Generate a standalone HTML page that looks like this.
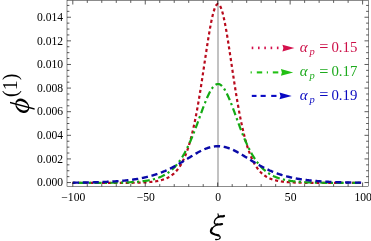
<!DOCTYPE html><html><head><meta charset="utf-8"><style>html,body{margin:0;padding:0;background:#fff;width:371px;height:241px;overflow:hidden}</style></head><body><svg width="371" height="241" viewBox="0 0 371 241" style="position:absolute;left:0;top:0;will-change:transform">
<line x1="218" y1="0.50" x2="218" y2="186.50" stroke="#909090" stroke-width="1.1"/>
<path d="M72.33 182.95 L72.81 182.95 L73.29 182.95 L73.78 182.95 L74.26 182.95 L74.75 182.95 L75.23 182.95 L75.71 182.95 L76.20 182.95 L76.68 182.95 L77.17 182.95 L77.65 182.95 L78.14 182.95 L78.62 182.95 L79.10 182.95 L79.59 182.95 L80.07 182.95 L80.56 182.95 L81.04 182.95 L81.53 182.95 L82.01 182.95 L82.49 182.95 L82.98 182.95 L83.46 182.95 L83.95 182.95 L84.43 182.95 L84.91 182.95 L85.40 182.95 L85.88 182.95 L86.37 182.95 L86.85 182.95 L87.34 182.95 L87.82 182.95 L88.30 182.95 L88.79 182.95 L89.27 182.95 L89.76 182.95 L90.24 182.95 L90.73 182.95 L91.21 182.95 L91.69 182.95 L92.18 182.95 L92.66 182.95 L93.15 182.95 L93.63 182.95 L94.11 182.95 L94.60 182.95 L95.08 182.95 L95.57 182.95 L96.05 182.95 L96.54 182.94 L97.02 182.94 L97.50 182.94 L97.99 182.94 L98.47 182.94 L98.96 182.94 L99.44 182.94 L99.93 182.94 L100.41 182.94 L100.89 182.94 L101.38 182.94 L101.86 182.94 L102.35 182.94 L102.83 182.94 L103.31 182.94 L103.80 182.94 L104.28 182.94 L104.77 182.94 L105.25 182.94 L105.74 182.94 L106.22 182.94 L106.70 182.94 L107.19 182.94 L107.67 182.93 L108.16 182.93 L108.64 182.93 L109.13 182.93 L109.61 182.93 L110.09 182.93 L110.58 182.93 L111.06 182.93 L111.55 182.93 L112.03 182.93 L112.51 182.93 L113.00 182.92 L113.48 182.92 L113.97 182.92 L114.45 182.92 L114.94 182.92 L115.42 182.92 L115.90 182.92 L116.39 182.91 L116.87 182.91 L117.36 182.91 L117.84 182.91 L118.33 182.91 L118.81 182.90 L119.29 182.90 L119.78 182.90 L120.26 182.90 L120.75 182.90 L121.23 182.89 L121.71 182.89 L122.20 182.89 L122.68 182.88 L123.17 182.88 L123.65 182.88 L124.14 182.87 L124.62 182.87 L125.10 182.87 L125.59 182.86 L126.07 182.86 L126.56 182.85 L127.04 182.85 L127.53 182.84 L128.01 182.84 L128.49 182.83 L128.98 182.83 L129.46 182.82 L129.95 182.82 L130.43 182.81 L130.91 182.80 L131.40 182.80 L131.88 182.79 L132.37 182.78 L132.85 182.77 L133.34 182.76 L133.82 182.75 L134.30 182.75 L134.79 182.74 L135.27 182.73 L135.76 182.71 L136.24 182.70 L136.73 182.69 L137.21 182.68 L137.69 182.67 L138.18 182.65 L138.66 182.64 L139.15 182.62 L139.63 182.61 L140.11 182.59 L140.60 182.57 L141.08 182.55 L141.57 182.53 L142.05 182.51 L142.54 182.49 L143.02 182.47 L143.50 182.45 L143.99 182.42 L144.47 182.40 L144.96 182.37 L145.44 182.34 L145.93 182.31 L146.41 182.28 L146.89 182.25 L147.38 182.22 L147.86 182.18 L148.35 182.15 L148.83 182.11 L149.31 182.07 L149.80 182.02 L150.28 181.98 L150.77 181.93 L151.25 181.88 L151.74 181.83 L152.22 181.78 L152.70 181.72 L153.19 181.66 L153.67 181.60 L154.16 181.54 L154.64 181.47 L155.12 181.40 L155.61 181.32 L156.09 181.24 L156.58 181.16 L157.06 181.07 L157.55 180.98 L158.03 180.89 L158.51 180.79 L159.00 180.69 L159.48 180.58 L159.97 180.46 L160.45 180.35 L160.94 180.22 L161.42 180.09 L161.90 179.95 L162.39 179.81 L162.87 179.66 L163.36 179.50 L163.84 179.33 L164.32 179.16 L164.81 178.98 L165.29 178.79 L165.78 178.59 L166.26 178.38 L166.75 178.17 L167.23 177.94 L167.71 177.70 L168.20 177.45 L168.68 177.19 L169.17 176.91 L169.65 176.63 L170.14 176.33 L170.62 176.01 L171.10 175.68 L171.59 175.34 L172.07 174.98 L172.56 174.60 L173.04 174.21 L173.52 173.80 L174.01 173.37 L174.49 172.92 L174.98 172.45 L175.46 171.96 L175.95 171.44 L176.43 170.90 L176.91 170.34 L177.40 169.75 L177.88 169.14 L178.37 168.50 L178.85 167.83 L179.34 167.13 L179.82 166.41 L180.30 165.65 L180.79 164.85 L181.27 164.02 L181.76 163.16 L182.24 162.26 L182.72 161.32 L183.21 160.34 L183.69 159.33 L184.18 158.26 L184.66 157.16 L185.15 156.01 L185.63 154.81 L186.11 153.57 L186.60 152.28 L187.08 150.93 L187.57 149.54 L188.05 148.08 L188.54 146.58 L189.02 145.02 L189.50 143.40 L189.99 141.72 L190.47 139.98 L190.96 138.18 L191.44 136.32 L191.92 134.39 L192.41 132.40 L192.89 130.35 L193.38 128.23 L193.86 126.04 L194.35 123.79 L194.83 121.47 L195.31 119.08 L195.80 116.63 L196.28 114.11 L196.77 111.53 L197.25 108.88 L197.74 106.17 L198.22 103.40 L198.70 100.57 L199.19 97.69 L199.67 94.75 L200.16 91.75 L200.64 88.72 L201.12 85.63 L201.61 82.51 L202.09 79.35 L202.58 76.16 L203.06 72.94 L203.55 69.71 L204.03 66.46 L204.51 63.21 L205.00 59.96 L205.48 56.72 L205.97 53.49 L206.45 50.29 L206.94 47.12 L207.42 43.99 L207.90 40.92 L208.39 37.90 L208.87 34.96 L209.36 32.09 L209.84 29.31 L210.32 26.64 L210.81 24.07 L211.29 21.61 L211.78 19.29 L212.26 17.10 L212.75 15.05 L213.23 13.16 L213.71 11.43 L214.20 9.86 L214.68 8.47 L215.17 7.26 L215.65 6.23 L216.14 5.39 L216.62 4.75 L217.10 4.30 L217.59 4.06 L218.07 4.01 L218.56 4.16 L219.04 4.51 L219.52 5.05 L220.01 5.79 L220.49 6.72 L220.98 7.84 L221.46 9.15 L221.95 10.63 L222.43 12.28 L222.91 14.09 L223.40 16.06 L223.88 18.18 L224.37 20.44 L224.85 22.83 L225.34 25.35 L225.82 27.97 L226.30 30.70 L226.79 33.52 L227.27 36.43 L227.76 39.41 L228.24 42.46 L228.72 45.56 L229.21 48.71 L229.69 51.90 L230.18 55.11 L230.66 58.35 L231.15 61.60 L231.63 64.85 L232.11 68.10 L232.60 71.34 L233.08 74.57 L233.57 77.77 L234.05 80.94 L234.54 84.09 L235.02 87.19 L235.50 90.25 L235.99 93.27 L236.47 96.23 L236.96 99.15 L237.44 102.01 L237.92 104.81 L238.41 107.55 L238.89 110.22 L239.38 112.84 L239.86 115.39 L240.35 117.87 L240.83 120.29 L241.31 122.64 L241.80 124.93 L242.28 127.15 L242.77 129.30 L243.25 131.39 L243.73 133.41 L244.22 135.37 L244.70 137.26 L245.19 139.10 L245.67 140.86 L246.16 142.57 L246.64 144.22 L247.12 145.81 L247.61 147.34 L248.09 148.82 L248.58 150.25 L249.06 151.62 L249.55 152.93 L250.03 154.20 L250.51 155.42 L251.00 156.60 L251.48 157.72 L251.97 158.80 L252.45 159.84 L252.93 160.84 L253.42 161.80 L253.90 162.72 L254.39 163.60 L254.87 164.45 L255.36 165.26 L255.84 166.03 L256.32 166.78 L256.81 167.49 L257.29 168.17 L257.78 168.83 L258.26 169.45 L258.75 170.05 L259.23 170.63 L259.71 171.18 L260.20 171.70 L260.68 172.21 L261.17 172.69 L261.65 173.15 L262.13 173.59 L262.62 174.01 L263.10 174.41 L263.59 174.80 L264.07 175.16 L264.56 175.52 L265.04 175.85 L265.52 176.17 L266.01 176.48 L266.49 176.77 L266.98 177.05 L267.46 177.32 L267.95 177.58 L268.43 177.82 L268.91 178.05 L269.40 178.28 L269.88 178.49 L270.37 178.69 L270.85 178.89 L271.33 179.07 L271.82 179.25 L272.30 179.42 L272.79 179.58 L273.27 179.73 L273.76 179.88 L274.24 180.02 L274.72 180.16 L275.21 180.28 L275.69 180.41 L276.18 180.52 L276.66 180.63 L277.15 180.74 L277.63 180.84 L278.11 180.94 L278.60 181.03 L279.08 181.12 L279.57 181.20 L280.05 181.28 L280.53 181.36 L281.02 181.43 L281.50 181.50 L281.99 181.57 L282.47 181.63 L282.96 181.69 L283.44 181.75 L283.92 181.81 L284.41 181.86 L284.89 181.91 L285.38 181.96 L285.86 182.00 L286.35 182.05 L286.83 182.09 L287.31 182.13 L287.80 182.17 L288.28 182.20 L288.77 182.24 L289.25 182.27 L289.73 182.30 L290.22 182.33 L290.70 182.36 L291.19 182.39 L291.67 182.41 L292.16 182.44 L292.64 182.46 L293.12 182.48 L293.61 182.50 L294.09 182.52 L294.58 182.54 L295.06 182.56 L295.55 182.58 L296.03 182.60 L296.51 182.61 L297.00 182.63 L297.48 182.64 L297.97 182.66 L298.45 182.67 L298.93 182.68 L299.42 182.70 L299.90 182.71 L300.39 182.72 L300.87 182.73 L301.36 182.74 L301.84 182.75 L302.32 182.76 L302.81 182.77 L303.29 182.78 L303.78 182.78 L304.26 182.79 L304.75 182.80 L305.23 182.81 L305.71 182.81 L306.20 182.82 L306.68 182.83 L307.17 182.83 L307.65 182.84 L308.13 182.84 L308.62 182.85 L309.10 182.85 L309.59 182.86 L310.07 182.86 L310.56 182.86 L311.04 182.87 L311.52 182.87 L312.01 182.88 L312.49 182.88 L312.98 182.88 L313.46 182.89 L313.95 182.89 L314.43 182.89 L314.91 182.89 L315.40 182.90 L315.88 182.90 L316.37 182.90 L316.85 182.90 L317.33 182.91 L317.82 182.91 L318.30 182.91 L318.79 182.91 L319.27 182.91 L319.76 182.92 L320.24 182.92 L320.72 182.92 L321.21 182.92 L321.69 182.92 L322.18 182.92 L322.66 182.92 L323.14 182.92 L323.63 182.93 L324.11 182.93 L324.60 182.93 L325.08 182.93 L325.57 182.93 L326.05 182.93 L326.53 182.93 L327.02 182.93 L327.50 182.93 L327.99 182.93 L328.47 182.94 L328.96 182.94 L329.44 182.94 L329.92 182.94 L330.41 182.94 L330.89 182.94 L331.38 182.94 L331.86 182.94 L332.34 182.94 L332.83 182.94 L333.31 182.94 L333.80 182.94 L334.28 182.94 L334.77 182.94 L335.25 182.94 L335.73 182.94 L336.22 182.94 L336.70 182.94 L337.19 182.94 L337.67 182.94 L338.16 182.94 L338.64 182.94 L339.12 182.94 L339.61 182.94 L340.09 182.95 L340.58 182.95 L341.06 182.95 L341.54 182.95 L342.03 182.95 L342.51 182.95 L343.00 182.95 L343.48 182.95 L343.97 182.95 L344.45 182.95 L344.93 182.95 L345.42 182.95 L345.90 182.95 L346.39 182.95 L346.87 182.95 L347.36 182.95 L347.84 182.95 L348.32 182.95 L348.81 182.95 L349.29 182.95 L349.78 182.95 L350.26 182.95 L350.74 182.95 L351.23 182.95 L351.71 182.95 L352.20 182.95 L352.68 182.95 L353.17 182.95 L353.65 182.95 L354.13 182.95 L354.62 182.95 L355.10 182.95 L355.59 182.95 L356.07 182.95 L356.56 182.95 L357.04 182.95 L357.52 182.95 L358.01 182.95 L358.49 182.95 L358.98 182.95 L359.46 182.95 L359.94 182.95 L360.43 182.95 L360.91 182.95 L361.40 182.95 L361.88 182.95 L362.37 182.95 L362.85 182.95" fill="none" stroke="#b80a1c" stroke-width="2.2" stroke-dasharray="3.1 2.815" stroke-dashoffset="5.80"/>
<path d="M72.33 182.94 L72.81 182.94 L73.29 182.94 L73.78 182.94 L74.26 182.94 L74.75 182.94 L75.23 182.94 L75.71 182.94 L76.20 182.94 L76.68 182.94 L77.17 182.93 L77.65 182.93 L78.14 182.93 L78.62 182.93 L79.10 182.93 L79.59 182.93 L80.07 182.93 L80.56 182.93 L81.04 182.93 L81.53 182.93 L82.01 182.93 L82.49 182.93 L82.98 182.93 L83.46 182.93 L83.95 182.93 L84.43 182.92 L84.91 182.92 L85.40 182.92 L85.88 182.92 L86.37 182.92 L86.85 182.92 L87.34 182.92 L87.82 182.92 L88.30 182.92 L88.79 182.92 L89.27 182.91 L89.76 182.91 L90.24 182.91 L90.73 182.91 L91.21 182.91 L91.69 182.91 L92.18 182.91 L92.66 182.90 L93.15 182.90 L93.63 182.90 L94.11 182.90 L94.60 182.90 L95.08 182.89 L95.57 182.89 L96.05 182.89 L96.54 182.89 L97.02 182.89 L97.50 182.88 L97.99 182.88 L98.47 182.88 L98.96 182.88 L99.44 182.87 L99.93 182.87 L100.41 182.87 L100.89 182.87 L101.38 182.86 L101.86 182.86 L102.35 182.86 L102.83 182.85 L103.31 182.85 L103.80 182.85 L104.28 182.84 L104.77 182.84 L105.25 182.84 L105.74 182.83 L106.22 182.83 L106.70 182.82 L107.19 182.82 L107.67 182.81 L108.16 182.81 L108.64 182.80 L109.13 182.80 L109.61 182.79 L110.09 182.79 L110.58 182.78 L111.06 182.78 L111.55 182.77 L112.03 182.76 L112.51 182.76 L113.00 182.75 L113.48 182.74 L113.97 182.73 L114.45 182.73 L114.94 182.72 L115.42 182.71 L115.90 182.70 L116.39 182.69 L116.87 182.68 L117.36 182.67 L117.84 182.66 L118.33 182.65 L118.81 182.64 L119.29 182.63 L119.78 182.62 L120.26 182.61 L120.75 182.60 L121.23 182.59 L121.71 182.57 L122.20 182.56 L122.68 182.55 L123.17 182.53 L123.65 182.52 L124.14 182.50 L124.62 182.49 L125.10 182.47 L125.59 182.45 L126.07 182.43 L126.56 182.42 L127.04 182.40 L127.53 182.38 L128.01 182.36 L128.49 182.34 L128.98 182.31 L129.46 182.29 L129.95 182.27 L130.43 182.24 L130.91 182.22 L131.40 182.19 L131.88 182.17 L132.37 182.14 L132.85 182.11 L133.34 182.08 L133.82 182.05 L134.30 182.02 L134.79 181.98 L135.27 181.95 L135.76 181.91 L136.24 181.88 L136.73 181.84 L137.21 181.80 L137.69 181.76 L138.18 181.72 L138.66 181.67 L139.15 181.63 L139.63 181.58 L140.11 181.53 L140.60 181.48 L141.08 181.43 L141.57 181.38 L142.05 181.32 L142.54 181.26 L143.02 181.20 L143.50 181.14 L143.99 181.08 L144.47 181.01 L144.96 180.94 L145.44 180.87 L145.93 180.80 L146.41 180.73 L146.89 180.65 L147.38 180.57 L147.86 180.48 L148.35 180.40 L148.83 180.31 L149.31 180.21 L149.80 180.12 L150.28 180.02 L150.77 179.91 L151.25 179.81 L151.74 179.70 L152.22 179.58 L152.70 179.47 L153.19 179.34 L153.67 179.22 L154.16 179.09 L154.64 178.95 L155.12 178.81 L155.61 178.67 L156.09 178.52 L156.58 178.37 L157.06 178.21 L157.55 178.04 L158.03 177.87 L158.51 177.70 L159.00 177.52 L159.48 177.33 L159.97 177.13 L160.45 176.93 L160.94 176.73 L161.42 176.51 L161.90 176.29 L162.39 176.06 L162.87 175.82 L163.36 175.58 L163.84 175.33 L164.32 175.07 L164.81 174.80 L165.29 174.52 L165.78 174.23 L166.26 173.94 L166.75 173.63 L167.23 173.32 L167.71 172.99 L168.20 172.66 L168.68 172.31 L169.17 171.95 L169.65 171.59 L170.14 171.21 L170.62 170.81 L171.10 170.41 L171.59 169.99 L172.07 169.56 L172.56 169.12 L173.04 168.67 L173.52 168.20 L174.01 167.71 L174.49 167.22 L174.98 166.70 L175.46 166.18 L175.95 165.63 L176.43 165.08 L176.91 164.50 L177.40 163.91 L177.88 163.30 L178.37 162.68 L178.85 162.04 L179.34 161.38 L179.82 160.70 L180.30 160.01 L180.79 159.30 L181.27 158.57 L181.76 157.82 L182.24 157.05 L182.72 156.26 L183.21 155.45 L183.69 154.62 L184.18 153.78 L184.66 152.91 L185.15 152.02 L185.63 151.11 L186.11 150.19 L186.60 149.24 L187.08 148.27 L187.57 147.28 L188.05 146.27 L188.54 145.25 L189.02 144.20 L189.50 143.13 L189.99 142.04 L190.47 140.94 L190.96 139.81 L191.44 138.67 L191.92 137.51 L192.41 136.33 L192.89 135.14 L193.38 133.93 L193.86 132.70 L194.35 131.46 L194.83 130.21 L195.31 128.94 L195.80 127.66 L196.28 126.37 L196.77 125.07 L197.25 123.76 L197.74 122.44 L198.22 121.12 L198.70 119.79 L199.19 118.46 L199.67 117.13 L200.16 115.80 L200.64 114.47 L201.12 113.14 L201.61 111.82 L202.09 110.50 L202.58 109.19 L203.06 107.90 L203.55 106.61 L204.03 105.34 L204.51 104.09 L205.00 102.86 L205.48 101.65 L205.97 100.46 L206.45 99.29 L206.94 98.16 L207.42 97.05 L207.90 95.97 L208.39 94.93 L208.87 93.93 L209.36 92.96 L209.84 92.03 L210.32 91.15 L210.81 90.31 L211.29 89.51 L211.78 88.76 L212.26 88.07 L212.75 87.42 L213.23 86.82 L213.71 86.28 L214.20 85.80 L214.68 85.37 L215.17 84.99 L215.65 84.68 L216.14 84.42 L216.62 84.23 L217.10 84.09 L217.59 84.02 L218.07 84.00 L218.56 84.05 L219.04 84.15 L219.52 84.32 L220.01 84.55 L220.49 84.83 L220.98 85.17 L221.46 85.58 L221.95 86.03 L222.43 86.55 L222.91 87.12 L223.40 87.74 L223.88 88.41 L224.37 89.13 L224.85 89.91 L225.34 90.72 L225.82 91.59 L226.30 92.49 L226.79 93.44 L227.27 94.43 L227.76 95.45 L228.24 96.51 L228.72 97.60 L229.21 98.72 L229.69 99.88 L230.18 101.05 L230.66 102.25 L231.15 103.48 L231.63 104.72 L232.11 105.98 L232.60 107.26 L233.08 108.55 L233.57 109.85 L234.05 111.16 L234.54 112.48 L235.02 113.81 L235.50 115.14 L235.99 116.47 L236.47 117.80 L236.96 119.13 L237.44 120.46 L237.92 121.79 L238.41 123.11 L238.89 124.42 L239.38 125.73 L239.86 127.02 L240.35 128.31 L240.83 129.58 L241.31 130.84 L241.80 132.09 L242.28 133.32 L242.77 134.54 L243.25 135.74 L243.73 136.93 L244.22 138.10 L244.70 139.25 L245.19 140.38 L245.67 141.50 L246.16 142.59 L246.64 143.67 L247.12 144.73 L247.61 145.77 L248.09 146.78 L248.58 147.78 L249.06 148.76 L249.55 149.72 L250.03 150.66 L250.51 151.57 L251.00 152.47 L251.48 153.35 L251.97 154.21 L252.45 155.04 L252.93 155.86 L253.42 156.66 L253.90 157.44 L254.39 158.20 L254.87 158.94 L255.36 159.66 L255.84 160.36 L256.32 161.05 L256.81 161.71 L257.29 162.36 L257.78 163.00 L258.26 163.61 L258.75 164.21 L259.23 164.79 L259.71 165.36 L260.20 165.91 L260.68 166.44 L261.17 166.96 L261.65 167.47 L262.13 167.96 L262.62 168.44 L263.10 168.90 L263.59 169.35 L264.07 169.78 L264.56 170.20 L265.04 170.61 L265.52 171.01 L266.01 171.40 L266.49 171.77 L266.98 172.13 L267.46 172.49 L267.95 172.83 L268.43 173.16 L268.91 173.48 L269.40 173.79 L269.88 174.09 L270.37 174.38 L270.85 174.66 L271.33 174.94 L271.82 175.20 L272.30 175.46 L272.79 175.70 L273.27 175.94 L273.76 176.18 L274.24 176.40 L274.72 176.62 L275.21 176.83 L275.69 177.03 L276.18 177.23 L276.66 177.42 L277.15 177.61 L277.63 177.79 L278.11 177.96 L278.60 178.13 L279.08 178.29 L279.57 178.45 L280.05 178.60 L280.53 178.74 L281.02 178.89 L281.50 179.02 L281.99 179.15 L282.47 179.28 L282.96 179.41 L283.44 179.53 L283.92 179.64 L284.41 179.75 L284.89 179.86 L285.38 179.97 L285.86 180.07 L286.35 180.17 L286.83 180.26 L287.31 180.35 L287.80 180.44 L288.28 180.52 L288.77 180.61 L289.25 180.69 L289.73 180.76 L290.22 180.84 L290.70 180.91 L291.19 180.98 L291.67 181.05 L292.16 181.11 L292.64 181.17 L293.12 181.23 L293.61 181.29 L294.09 181.35 L294.58 181.40 L295.06 181.46 L295.55 181.51 L296.03 181.56 L296.51 181.60 L297.00 181.65 L297.48 181.69 L297.97 181.74 L298.45 181.78 L298.93 181.82 L299.42 181.86 L299.90 181.90 L300.39 181.93 L300.87 181.97 L301.36 182.00 L301.84 182.03 L302.32 182.06 L302.81 182.09 L303.29 182.12 L303.78 182.15 L304.26 182.18 L304.75 182.21 L305.23 182.23 L305.71 182.26 L306.20 182.28 L306.68 182.30 L307.17 182.32 L307.65 182.35 L308.13 182.37 L308.62 182.39 L309.10 182.41 L309.59 182.42 L310.07 182.44 L310.56 182.46 L311.04 182.48 L311.52 182.49 L312.01 182.51 L312.49 182.52 L312.98 182.54 L313.46 182.55 L313.95 182.57 L314.43 182.58 L314.91 182.59 L315.40 182.60 L315.88 182.62 L316.37 182.63 L316.85 182.64 L317.33 182.65 L317.82 182.66 L318.30 182.67 L318.79 182.68 L319.27 182.69 L319.76 182.70 L320.24 182.71 L320.72 182.71 L321.21 182.72 L321.69 182.73 L322.18 182.74 L322.66 182.75 L323.14 182.75 L323.63 182.76 L324.11 182.77 L324.60 182.77 L325.08 182.78 L325.57 182.78 L326.05 182.79 L326.53 182.80 L327.02 182.80 L327.50 182.81 L327.99 182.81 L328.47 182.82 L328.96 182.82 L329.44 182.82 L329.92 182.83 L330.41 182.83 L330.89 182.84 L331.38 182.84 L331.86 182.84 L332.34 182.85 L332.83 182.85 L333.31 182.86 L333.80 182.86 L334.28 182.86 L334.77 182.86 L335.25 182.87 L335.73 182.87 L336.22 182.87 L336.70 182.88 L337.19 182.88 L337.67 182.88 L338.16 182.88 L338.64 182.89 L339.12 182.89 L339.61 182.89 L340.09 182.89 L340.58 182.89 L341.06 182.90 L341.54 182.90 L342.03 182.90 L342.51 182.90 L343.00 182.90 L343.48 182.90 L343.97 182.91 L344.45 182.91 L344.93 182.91 L345.42 182.91 L345.90 182.91 L346.39 182.91 L346.87 182.91 L347.36 182.92 L347.84 182.92 L348.32 182.92 L348.81 182.92 L349.29 182.92 L349.78 182.92 L350.26 182.92 L350.74 182.92 L351.23 182.92 L351.71 182.92 L352.20 182.93 L352.68 182.93 L353.17 182.93 L353.65 182.93 L354.13 182.93 L354.62 182.93 L355.10 182.93 L355.59 182.93 L356.07 182.93 L356.56 182.93 L357.04 182.93 L357.52 182.93 L358.01 182.93 L358.49 182.93 L358.98 182.94 L359.46 182.94 L359.94 182.94 L360.43 182.94 L360.91 182.94 L361.40 182.94 L361.88 182.94 L362.37 182.94 L362.85 182.94" fill="none" stroke="#14aa14" stroke-width="2.2" stroke-dasharray="2.2 3.3 7.3 3.27" stroke-dashoffset="15.60"/>
<path d="M72.33 182.70 L72.81 182.70 L73.29 182.69 L73.78 182.69 L74.26 182.68 L74.75 182.67 L75.23 182.67 L75.71 182.66 L76.20 182.66 L76.68 182.65 L77.17 182.64 L77.65 182.64 L78.14 182.63 L78.62 182.62 L79.10 182.62 L79.59 182.61 L80.07 182.60 L80.56 182.59 L81.04 182.59 L81.53 182.58 L82.01 182.57 L82.49 182.56 L82.98 182.56 L83.46 182.55 L83.95 182.54 L84.43 182.53 L84.91 182.52 L85.40 182.51 L85.88 182.50 L86.37 182.49 L86.85 182.48 L87.34 182.47 L87.82 182.46 L88.30 182.45 L88.79 182.44 L89.27 182.43 L89.76 182.42 L90.24 182.41 L90.73 182.40 L91.21 182.38 L91.69 182.37 L92.18 182.36 L92.66 182.35 L93.15 182.34 L93.63 182.32 L94.11 182.31 L94.60 182.30 L95.08 182.28 L95.57 182.27 L96.05 182.25 L96.54 182.24 L97.02 182.22 L97.50 182.21 L97.99 182.19 L98.47 182.18 L98.96 182.16 L99.44 182.14 L99.93 182.13 L100.41 182.11 L100.89 182.09 L101.38 182.07 L101.86 182.05 L102.35 182.03 L102.83 182.01 L103.31 181.99 L103.80 181.97 L104.28 181.95 L104.77 181.93 L105.25 181.91 L105.74 181.89 L106.22 181.87 L106.70 181.84 L107.19 181.82 L107.67 181.80 L108.16 181.77 L108.64 181.75 L109.13 181.72 L109.61 181.70 L110.09 181.67 L110.58 181.64 L111.06 181.62 L111.55 181.59 L112.03 181.56 L112.51 181.53 L113.00 181.50 L113.48 181.47 L113.97 181.44 L114.45 181.41 L114.94 181.37 L115.42 181.34 L115.90 181.31 L116.39 181.27 L116.87 181.24 L117.36 181.20 L117.84 181.17 L118.33 181.13 L118.81 181.09 L119.29 181.05 L119.78 181.01 L120.26 180.97 L120.75 180.93 L121.23 180.89 L121.71 180.84 L122.20 180.80 L122.68 180.76 L123.17 180.71 L123.65 180.66 L124.14 180.62 L124.62 180.57 L125.10 180.52 L125.59 180.47 L126.07 180.42 L126.56 180.37 L127.04 180.31 L127.53 180.26 L128.01 180.20 L128.49 180.15 L128.98 180.09 L129.46 180.03 L129.95 179.97 L130.43 179.91 L130.91 179.84 L131.40 179.78 L131.88 179.72 L132.37 179.65 L132.85 179.58 L133.34 179.51 L133.82 179.44 L134.30 179.37 L134.79 179.30 L135.27 179.23 L135.76 179.15 L136.24 179.07 L136.73 178.99 L137.21 178.91 L137.69 178.83 L138.18 178.75 L138.66 178.66 L139.15 178.58 L139.63 178.49 L140.11 178.40 L140.60 178.31 L141.08 178.22 L141.57 178.12 L142.05 178.03 L142.54 177.93 L143.02 177.83 L143.50 177.73 L143.99 177.62 L144.47 177.52 L144.96 177.41 L145.44 177.30 L145.93 177.19 L146.41 177.08 L146.89 176.96 L147.38 176.84 L147.86 176.72 L148.35 176.60 L148.83 176.48 L149.31 176.35 L149.80 176.23 L150.28 176.10 L150.77 175.96 L151.25 175.83 L151.74 175.69 L152.22 175.55 L152.70 175.41 L153.19 175.27 L153.67 175.12 L154.16 174.97 L154.64 174.82 L155.12 174.67 L155.61 174.51 L156.09 174.35 L156.58 174.19 L157.06 174.03 L157.55 173.86 L158.03 173.70 L158.51 173.52 L159.00 173.35 L159.48 173.17 L159.97 173.00 L160.45 172.81 L160.94 172.63 L161.42 172.44 L161.90 172.25 L162.39 172.06 L162.87 171.87 L163.36 171.67 L163.84 171.47 L164.32 171.26 L164.81 171.06 L165.29 170.85 L165.78 170.64 L166.26 170.42 L166.75 170.20 L167.23 169.98 L167.71 169.76 L168.20 169.54 L168.68 169.31 L169.17 169.08 L169.65 168.84 L170.14 168.61 L170.62 168.37 L171.10 168.13 L171.59 167.88 L172.07 167.64 L172.56 167.39 L173.04 167.13 L173.52 166.88 L174.01 166.62 L174.49 166.36 L174.98 166.10 L175.46 165.84 L175.95 165.57 L176.43 165.30 L176.91 165.03 L177.40 164.76 L177.88 164.48 L178.37 164.21 L178.85 163.93 L179.34 163.64 L179.82 163.36 L180.30 163.08 L180.79 162.79 L181.27 162.50 L181.76 162.21 L182.24 161.92 L182.72 161.63 L183.21 161.34 L183.69 161.04 L184.18 160.74 L184.66 160.45 L185.15 160.15 L185.63 159.85 L186.11 159.55 L186.60 159.25 L187.08 158.95 L187.57 158.65 L188.05 158.35 L188.54 158.05 L189.02 157.75 L189.50 157.45 L189.99 157.15 L190.47 156.86 L190.96 156.56 L191.44 156.26 L191.92 155.97 L192.41 155.67 L192.89 155.38 L193.38 155.09 L193.86 154.80 L194.35 154.51 L194.83 154.22 L195.31 153.94 L195.80 153.66 L196.28 153.38 L196.77 153.10 L197.25 152.83 L197.74 152.56 L198.22 152.29 L198.70 152.03 L199.19 151.77 L199.67 151.52 L200.16 151.26 L200.64 151.02 L201.12 150.77 L201.61 150.54 L202.09 150.30 L202.58 150.07 L203.06 149.85 L203.55 149.63 L204.03 149.42 L204.51 149.21 L205.00 149.01 L205.48 148.81 L205.97 148.62 L206.45 148.44 L206.94 148.26 L207.42 148.09 L207.90 147.92 L208.39 147.77 L208.87 147.62 L209.36 147.47 L209.84 147.34 L210.32 147.21 L210.81 147.09 L211.29 146.97 L211.78 146.86 L212.26 146.76 L212.75 146.67 L213.23 146.59 L213.71 146.51 L214.20 146.45 L214.68 146.39 L215.17 146.34 L215.65 146.29 L216.14 146.26 L216.62 146.23 L217.10 146.21 L217.59 146.20 L218.07 146.20 L218.56 146.21 L219.04 146.22 L219.52 146.24 L220.01 146.27 L220.49 146.31 L220.98 146.36 L221.46 146.42 L221.95 146.48 L222.43 146.55 L222.91 146.63 L223.40 146.72 L223.88 146.81 L224.37 146.92 L224.85 147.03 L225.34 147.15 L225.82 147.27 L226.30 147.40 L226.79 147.54 L227.27 147.69 L227.76 147.85 L228.24 148.01 L228.72 148.17 L229.21 148.35 L229.69 148.53 L230.18 148.72 L230.66 148.91 L231.15 149.11 L231.63 149.31 L232.11 149.52 L232.60 149.74 L233.08 149.96 L233.57 150.19 L234.05 150.42 L234.54 150.65 L235.02 150.90 L235.50 151.14 L235.99 151.39 L236.47 151.64 L236.96 151.90 L237.44 152.16 L237.92 152.43 L238.41 152.70 L238.89 152.97 L239.38 153.24 L239.86 153.52 L240.35 153.80 L240.83 154.08 L241.31 154.37 L241.80 154.65 L242.28 154.94 L242.77 155.23 L243.25 155.53 L243.73 155.82 L244.22 156.11 L244.70 156.41 L245.19 156.71 L245.67 157.01 L246.16 157.31 L246.64 157.60 L247.12 157.90 L247.61 158.20 L248.09 158.50 L248.58 158.80 L249.06 159.10 L249.55 159.40 L250.03 159.70 L250.51 160.00 L251.00 160.30 L251.48 160.60 L251.97 160.89 L252.45 161.19 L252.93 161.48 L253.42 161.78 L253.90 162.07 L254.39 162.36 L254.87 162.65 L255.36 162.93 L255.84 163.22 L256.32 163.50 L256.81 163.79 L257.29 164.07 L257.78 164.35 L258.26 164.62 L258.75 164.90 L259.23 165.17 L259.71 165.44 L260.20 165.71 L260.68 165.97 L261.17 166.23 L261.65 166.49 L262.13 166.75 L262.62 167.01 L263.10 167.26 L263.59 167.51 L264.07 167.76 L264.56 168.01 L265.04 168.25 L265.52 168.49 L266.01 168.73 L266.49 168.96 L266.98 169.19 L267.46 169.42 L267.95 169.65 L268.43 169.87 L268.91 170.10 L269.40 170.31 L269.88 170.53 L270.37 170.74 L270.85 170.95 L271.33 171.16 L271.82 171.37 L272.30 171.57 L272.79 171.77 L273.27 171.96 L273.76 172.16 L274.24 172.35 L274.72 172.54 L275.21 172.72 L275.69 172.91 L276.18 173.09 L276.66 173.26 L277.15 173.44 L277.63 173.61 L278.11 173.78 L278.60 173.95 L279.08 174.11 L279.57 174.28 L280.05 174.43 L280.53 174.59 L281.02 174.75 L281.50 174.90 L281.99 175.05 L282.47 175.20 L282.96 175.34 L283.44 175.48 L283.92 175.62 L284.41 175.76 L284.89 175.90 L285.38 176.03 L285.86 176.16 L286.35 176.29 L286.83 176.42 L287.31 176.54 L287.80 176.66 L288.28 176.78 L288.77 176.90 L289.25 177.02 L289.73 177.13 L290.22 177.25 L290.70 177.36 L291.19 177.46 L291.67 177.57 L292.16 177.68 L292.64 177.78 L293.12 177.88 L293.61 177.98 L294.09 178.07 L294.58 178.17 L295.06 178.26 L295.55 178.36 L296.03 178.45 L296.51 178.54 L297.00 178.62 L297.48 178.71 L297.97 178.79 L298.45 178.87 L298.93 178.95 L299.42 179.03 L299.90 179.11 L300.39 179.19 L300.87 179.26 L301.36 179.34 L301.84 179.41 L302.32 179.48 L302.81 179.55 L303.29 179.62 L303.78 179.68 L304.26 179.75 L304.75 179.81 L305.23 179.88 L305.71 179.94 L306.20 180.00 L306.68 180.06 L307.17 180.12 L307.65 180.17 L308.13 180.23 L308.62 180.28 L309.10 180.34 L309.59 180.39 L310.07 180.44 L310.56 180.49 L311.04 180.54 L311.52 180.59 L312.01 180.64 L312.49 180.69 L312.98 180.73 L313.46 180.78 L313.95 180.82 L314.43 180.87 L314.91 180.91 L315.40 180.95 L315.88 180.99 L316.37 181.03 L316.85 181.07 L317.33 181.11 L317.82 181.15 L318.30 181.18 L318.79 181.22 L319.27 181.26 L319.76 181.29 L320.24 181.32 L320.72 181.36 L321.21 181.39 L321.69 181.42 L322.18 181.45 L322.66 181.48 L323.14 181.51 L323.63 181.54 L324.11 181.57 L324.60 181.60 L325.08 181.63 L325.57 181.66 L326.05 181.68 L326.53 181.71 L327.02 181.74 L327.50 181.76 L327.99 181.78 L328.47 181.81 L328.96 181.83 L329.44 181.86 L329.92 181.88 L330.41 181.90 L330.89 181.92 L331.38 181.94 L331.86 181.96 L332.34 181.98 L332.83 182.00 L333.31 182.02 L333.80 182.04 L334.28 182.06 L334.77 182.08 L335.25 182.10 L335.73 182.12 L336.22 182.13 L336.70 182.15 L337.19 182.17 L337.67 182.18 L338.16 182.20 L338.64 182.22 L339.12 182.23 L339.61 182.25 L340.09 182.26 L340.58 182.27 L341.06 182.29 L341.54 182.30 L342.03 182.32 L342.51 182.33 L343.00 182.34 L343.48 182.35 L343.97 182.37 L344.45 182.38 L344.93 182.39 L345.42 182.40 L345.90 182.41 L346.39 182.43 L346.87 182.44 L347.36 182.45 L347.84 182.46 L348.32 182.47 L348.81 182.48 L349.29 182.49 L349.78 182.50 L350.26 182.51 L350.74 182.52 L351.23 182.52 L351.71 182.53 L352.20 182.54 L352.68 182.55 L353.17 182.56 L353.65 182.57 L354.13 182.58 L354.62 182.58 L355.10 182.59 L355.59 182.60 L356.07 182.61 L356.56 182.61 L357.04 182.62 L357.52 182.63 L358.01 182.63 L358.49 182.64 L358.98 182.65 L359.46 182.65 L359.94 182.66 L360.43 182.67 L360.91 182.67 L361.40 182.68 L361.88 182.68 L362.37 182.69 L362.85 182.69" fill="none" stroke="#0a0aa8" stroke-width="2.4" stroke-dasharray="6.2 3.7" stroke-dashoffset="9.43"/>
<rect x="67.00" y="0.50" width="301.50" height="186.00" fill="none" stroke="#000" stroke-width="0.45"/>
<path d="M72.80 186.50 v-4.00 M72.80 0.50 v4.00 M87.29 186.50 v-2.40 M87.29 0.50 v2.40 M101.78 186.50 v-2.40 M101.78 0.50 v2.40 M116.27 186.50 v-2.40 M116.27 0.50 v2.40 M130.76 186.50 v-2.40 M130.76 0.50 v2.40 M145.25 186.50 v-4.00 M145.25 0.50 v4.00 M159.74 186.50 v-2.40 M159.74 0.50 v2.40 M174.23 186.50 v-2.40 M174.23 0.50 v2.40 M188.72 186.50 v-2.40 M188.72 0.50 v2.40 M203.21 186.50 v-2.40 M203.21 0.50 v2.40 M217.70 186.50 v-4.00 M217.70 0.50 v4.00 M232.19 186.50 v-2.40 M232.19 0.50 v2.40 M246.68 186.50 v-2.40 M246.68 0.50 v2.40 M261.17 186.50 v-2.40 M261.17 0.50 v2.40 M275.66 186.50 v-2.40 M275.66 0.50 v2.40 M290.15 186.50 v-4.00 M290.15 0.50 v4.00 M304.64 186.50 v-2.40 M304.64 0.50 v2.40 M319.13 186.50 v-2.40 M319.13 0.50 v2.40 M333.62 186.50 v-2.40 M333.62 0.50 v2.40 M348.11 186.50 v-2.40 M348.11 0.50 v2.40 M362.60 186.50 v-4.00 M362.60 0.50 v4.00 M67.00 182.55 h4.00 M368.50 182.55 h-4.00 M67.00 176.65 h2.40 M368.50 176.65 h-2.40 M67.00 170.74 h2.40 M368.50 170.74 h-2.40 M67.00 164.84 h2.40 M368.50 164.84 h-2.40 M67.00 158.93 h4.00 M368.50 158.93 h-4.00 M67.00 153.03 h2.40 M368.50 153.03 h-2.40 M67.00 147.13 h2.40 M368.50 147.13 h-2.40 M67.00 141.22 h2.40 M368.50 141.22 h-2.40 M67.00 135.32 h4.00 M368.50 135.32 h-4.00 M67.00 129.41 h2.40 M368.50 129.41 h-2.40 M67.00 123.51 h2.40 M368.50 123.51 h-2.40 M67.00 117.61 h2.40 M368.50 117.61 h-2.40 M67.00 111.70 h4.00 M368.50 111.70 h-4.00 M67.00 105.80 h2.40 M368.50 105.80 h-2.40 M67.00 99.89 h2.40 M368.50 99.89 h-2.40 M67.00 93.99 h2.40 M368.50 93.99 h-2.40 M67.00 88.09 h4.00 M368.50 88.09 h-4.00 M67.00 82.18 h2.40 M368.50 82.18 h-2.40 M67.00 76.28 h2.40 M368.50 76.28 h-2.40 M67.00 70.37 h2.40 M368.50 70.37 h-2.40 M67.00 64.47 h4.00 M368.50 64.47 h-4.00 M67.00 58.57 h2.40 M368.50 58.57 h-2.40 M67.00 52.66 h2.40 M368.50 52.66 h-2.40 M67.00 46.76 h2.40 M368.50 46.76 h-2.40 M67.00 40.85 h4.00 M368.50 40.85 h-4.00 M67.00 34.95 h2.40 M368.50 34.95 h-2.40 M67.00 29.05 h2.40 M368.50 29.05 h-2.40 M67.00 23.14 h2.40 M368.50 23.14 h-2.40 M67.00 17.24 h4.00 M368.50 17.24 h-4.00 M67.00 11.33 h2.40 M368.50 11.33 h-2.40 M67.00 5.43 h2.40 M368.50 5.43 h-2.40" stroke="#000" stroke-width="0.65" fill="none"/>
<g font-family="Liberation Serif, serif" font-size="11.6" fill="#000">
<text x="63.1" y="186.25" text-anchor="end">0.000</text>
<text x="63.1" y="162.63" text-anchor="end">0.002</text>
<text x="63.1" y="139.02" text-anchor="end">0.004</text>
<text x="63.1" y="115.40" text-anchor="end">0.006</text>
<text x="63.1" y="91.79" text-anchor="end">0.008</text>
<text x="63.1" y="68.17" text-anchor="end">0.010</text>
<text x="63.1" y="44.55" text-anchor="end">0.012</text>
<text x="63.1" y="20.94" text-anchor="end">0.014</text>
<text x="73.30" y="200.9" text-anchor="middle">−100</text>
<text x="145.75" y="200.9" text-anchor="middle">−50</text>
<text x="218.20" y="200.9" text-anchor="middle">0</text>
<text x="290.65" y="200.9" text-anchor="middle">50</text>
<text x="363.10" y="200.9" text-anchor="middle">100</text>
</g>
<g fill="none" stroke="#000" stroke-linecap="round" stroke-linejoin="round"><path stroke-width="1.1" d="M218.0 213.8 L218.5 216.3"/><path stroke-width="2.2" d="M218.6 216.7 C220.2 215.9, 222 217.0, 224 216.0"/><path stroke-width="1.3" d="M218.6 216.8 C216.5 217.8, 214.4 220.2, 214.3 222.2 C214.3 223.8, 215.8 224.4, 217.5 224.4"/><path stroke-width="2.1" d="M217.3 224.4 C219 224.7, 220.6 224.5, 222.1 224.0"/><path stroke-width="1.3" d="M217.6 224.6 C215.6 225.3, 213.2 226.8, 212.0 228.4"/><path stroke-width="2.3" d="M212.0 228.4 C211.2 229.6, 210.9 230.6, 211.0 231.7 C211.2 233.3, 213 234.0, 215 234.5 C216.4 234.8,217.6 235.1, 218.4 235.4"/><path stroke-width="1.3" d="M218.4 235.4 C219.8 235.9, 220.4 236.6, 220.2 237.6 C219.9 239.1, 217.6 239.8, 215.7 239.5"/></g>
<g transform="translate(22.3,105.8) rotate(-90) skewX(-15)"><path fill-rule="evenodd" d="M-7.0 0 a7.0 7.0 0 1 0 14 0 a7.0 7.0 0 1 0 -14 0 z M-4.4 0 a4.4 6.0 0 1 1 8.8 0 a4.4 6.0 0 1 1 -8.8 0 z" fill="#000"/><rect x="-0.75" y="-12.3" width="1.5" height="24.6" fill="#000"/></g>
<text transform="translate(16.5,96.9) rotate(-90)" font-family="Liberation Serif, serif" font-size="20">(1)</text>
<rect x="251.70" y="46.60" width="1.6" height="2.6" fill="#d4104c"/>
<rect x="258.00" y="46.60" width="1.6" height="2.6" fill="#d4104c"/>
<rect x="264.30" y="46.60" width="1.6" height="2.6" fill="#d4104c"/>
<rect x="270.60" y="46.60" width="1.6" height="2.6" fill="#d4104c"/>
<rect x="276.90" y="46.60" width="1.6" height="2.6" fill="#d4104c"/>
<path d="M294.40 48.10 L282.40 44.80 L283.40 48.10 L282.40 51.40 z" fill="#d4104c"/>
<rect x="250.60" y="71.35" width="1.20" height="2.1" fill="#22c014"/>
<rect x="256.80" y="71.35" width="5.40" height="2.1" fill="#22c014"/>
<rect x="266.80" y="71.35" width="1.20" height="2.1" fill="#22c014"/>
<rect x="272.80" y="71.35" width="5.50" height="2.1" fill="#22c014"/>
<path d="M293.20 72.40 L280.90 69.10 L281.90 72.40 L280.90 75.70 z" fill="#22c014"/>
<rect x="251.80" y="94.85" width="4.70" height="2.1" fill="#0808c4"/>
<rect x="260.60" y="94.85" width="5.10" height="2.1" fill="#0808c4"/>
<rect x="271.20" y="94.85" width="5.30" height="2.1" fill="#0808c4"/>
<path d="M291.70 95.90 L279.50 92.60 L280.50 95.90 L279.50 99.20 z" fill="#0808c4"/>
<g font-family="Liberation Serif, serif" fill="#cc1048">
<text x="299.8" y="51.60" font-style="italic" font-size="15">α</text>
<text x="309.6" y="54.50" font-style="italic" font-size="10.5">p</text>
<text x="319.3" y="52.10" font-size="16.2">=</text>
<text x="331.4" y="51.60" font-size="14.8">0.15</text>
</g>
<g font-family="Liberation Serif, serif" fill="#1eaa1e">
<text x="299.8" y="76.10" font-style="italic" font-size="15">α</text>
<text x="309.6" y="79.00" font-style="italic" font-size="10.5">p</text>
<text x="319.3" y="76.60" font-size="16.2">=</text>
<text x="331.4" y="76.10" font-size="14.8">0.17</text>
</g>
<g font-family="Liberation Serif, serif" fill="#0a0ac0">
<text x="299.8" y="99.60" font-style="italic" font-size="15">α</text>
<text x="309.6" y="102.50" font-style="italic" font-size="10.5">p</text>
<text x="319.3" y="100.10" font-size="16.2">=</text>
<text x="331.4" y="99.60" font-size="14.8">0.19</text>
</g>
</svg></body></html>
